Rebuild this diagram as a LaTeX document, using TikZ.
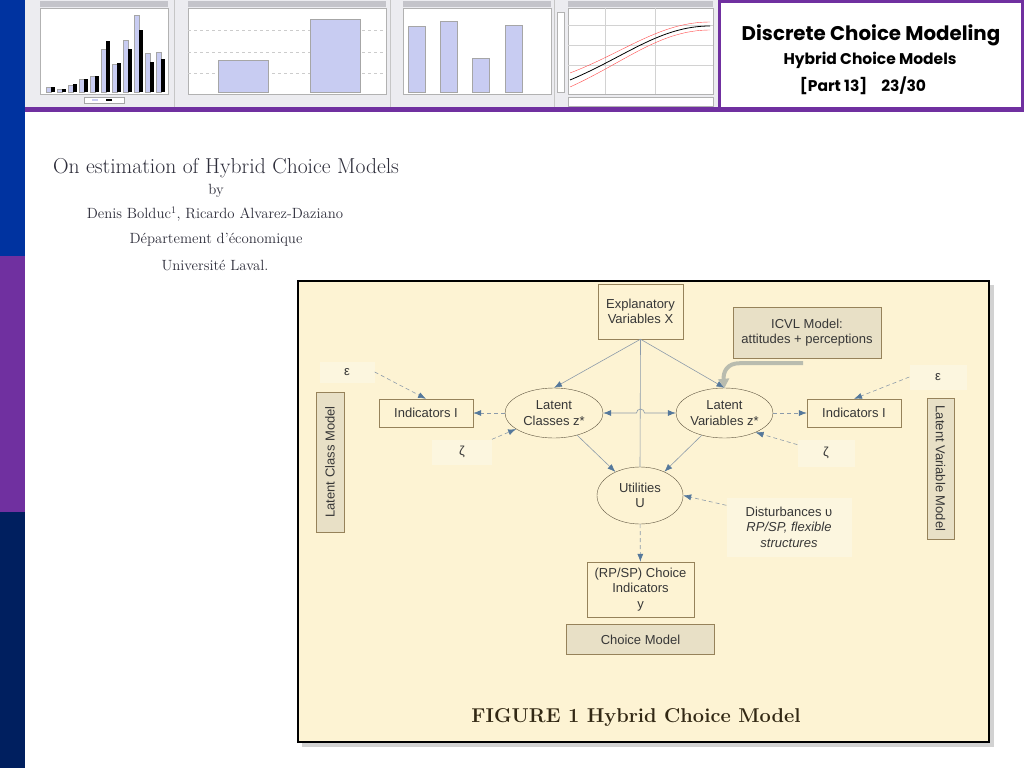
\documentclass[tikz,border=0pt]{standalone}
\usepackage{fontspec}
\usepackage{amsmath}
\usepackage{tikz}
\usetikzlibrary{positioning,fit,calc,arrows.meta,shapes.geometric}
\newfontfamily\figfont{Liberation Sans}
\newfontfamily\headfont{Poppins}

\definecolor{barblue}{RGB}{0,51,160}
\definecolor{barpurple}{RGB}{112,48,160}
\definecolor{barnavy}{RGB}{0,31,95}
\definecolor{cream}{RGB}{253,243,211}
\definecolor{faintbg}{RGB}{252,246,223}
\definecolor{tanbox}{RGB}{232,224,198}
\definecolor{boxline}{RGB}{150,130,90}
\definecolor{ellline}{RGB}{95,85,65}
\definecolor{linegray}{RGB}{140,155,170}
\definecolor{tipblue}{RGB}{85,120,155}
\definecolor{icvlgray}{RGB}{185,188,175}
\definecolor{figtxt}{RGB}{55,55,55}
\definecolor{pagetxt}{RGB}{45,45,58}
\definecolor{barlight}{RGB}{200,204,242}
\definecolor{paneltop}{RGB}{196,196,202}
\definecolor{panelbg}{RGB}{236,236,240}

\begin{document}
\begin{tikzpicture}[x=1pt,y=-1pt,>=latex,
  figtext/.style={font=\figfont\fontsize{13}{15.5}\selectfont, text=figtxt, align=center, inner sep=1pt},
  box/.style={figtext, draw=boxline, fill=cream, minimum width=94pt, minimum height=28pt},
  tanbox/.style={figtext, draw=boxline, fill=tanbox},
  latent/.style={figtext, ellipse, draw=ellline, fill=cream, inner sep=0pt},
  faint/.style={figtext, fill=faintbg, inner sep=0pt},
  solidarrow/.style={draw=linegray, line width=0.6pt, -{Latex[length=8pt,width=6pt,color=tipblue]}},
  dasharrow/.style={solidarrow, dash pattern=on 4pt off 3pt},
  pagetext/.style={text=pagetxt, inner sep=0pt}]

  \useasboundingbox (0,0) rectangle (1024,768);
  \fill[white] (0,0) rectangle (1024,768);

  % side bar
  \fill[barblue] (0,0) rectangle (25,256);
  \fill[barpurple] (0,256) rectangle (25,512);
  \fill[barnavy] (0,512) rectangle (25,768);

  % chart strip
  \fill[panelbg] (25,0) rectangle (718,108);
  \foreach \a/\b in {40/168,188/386,403/551,568/713}{
    \fill[white, draw=gray!60] (\a,8) rectangle (\b,94);
    \fill[paneltop] (\a,1) rectangle (\b,7);
  }
  \foreach \a in {174,390,554}
    \draw[gray!45] (\a,0) -- (\a,108);
  \foreach \l/\k [count=\i from 0] in {15/17,10/8,22/25,40/40,48/50,135/160,88/90,162/135,240/195,120/95,123/102}{
    \fill[barlight, draw=gray!70] ({46+11*\i},92) rectangle ++(5,{-\l*0.32});
    \fill[black] ({51+11*\i},92) rectangle ++(4,{-\k*0.32});
  }
  \draw[gray!70, fill=white] (84,97) rectangle (124,103);
  \fill[barlight] (92,99) rectangle (98,101);
  \fill[black] (106,99) rectangle (112,101);
  \foreach \y in {30,52,73}
    \draw[gray!40, dashed] (188,\y) -- (386,\y);
  \fill[barlight, draw=gray!70] (218,92) rectangle (268,60);
  \fill[barlight, draw=gray!70] (310,92) rectangle (360,19);
  \foreach \x/\t in {408/26,440/21,472/58,505/25}
    \fill[barlight, draw=gray!70] (\x,92) rectangle ++(17,{\t-92});
  \fill[white, draw=gray!60] (557,12) rectangle (564,92);
  \foreach \x in {605,655}
    \draw[gray!35] (\x,8) -- (\x,94);
  \foreach \y in {25,45,65}
    \draw[gray!35] (568,\y) -- (713,\y);
  \draw[red!70, line width=0.4pt] (570,73) .. controls (625,52) and (660,22) .. (710,22);
  \draw[red!70, line width=0.4pt] (570,87) .. controls (625,62) and (660,30) .. (710,30);
  \draw[black, line width=0.8pt] (570,80) .. controls (625,57) and (660,26) .. (710,26);
  \draw[gray!60, fill=white] (568,97) rectangle (713,106);

  % header
  \fill[barpurple] (25,107) rectangle (1024,112);
  \draw[barpurple, line width=3pt] (719.5,1.5) rectangle (1022.5,108);
  \node[font=\headfont\bfseries\fontsize{19.8}{22}\selectfont] (ttl) at (871,35) {Discrete Choice Modeling};
  \node[font=\headfont\bfseries\fontsize{15.5}{17}\selectfont] (sub) at (870,60) {Hybrid Choice Models};
  \node[font=\headfont\bfseries\fontsize{15.5}{17}\selectfont] (part) at (863,86) {[Part 13]\hspace{14pt}23/30};

  % paper title
  \node[pagetext, font=\fontsize{21.6}{24}\selectfont] (paper) at (226,168) {On estimation of Hybrid Choice Models};
  \node[pagetext, font=\fontsize{14.8}{17}\selectfont] (by) at (216,191) {by};
  \node[pagetext, font=\fontsize{14.8}{17}\selectfont] (authors) at (215,214) {Denis Bolduc$^1$, Ricardo Alvarez-Daziano};
  \node[pagetext, font=\fontsize{14.8}{17}\selectfont] (dept) at (216,240) {Département d’économique};
  \node[pagetext, font=\fontsize{14.8}{17}\selectfont] (univ) at (215,265) {Université Laval.};

  % figure frame
  \fill[gray!35] (302,285) rectangle (994,747);
  \draw[line width=2.5pt, fill=cream] (298,281) rectangle (989,742);

  \node[faint, minimum width=55pt, minimum height=21pt] (epsl) at (347,372) {ε};
  \node[faint, minimum width=60pt, minimum height=25pt] (zetal) at (462,452) {ζ};
  \node[faint, minimum width=57pt, minimum height=25pt] (epsr) at (938,377) {ε};
  \node[faint, minimum width=57pt, minimum height=27pt] (zetar) at (826,453) {ζ};
  \node[faint, minimum width=125pt, minimum height=59pt] (dist) at (789,527)
      {Disturbances υ\\\textit{RP/SP, flexible}\\\textit{structures}};

  \node[box, minimum width=85pt, minimum height=55pt] (expl) at (640.5,311.5) {Explanatory\\Variables X};
  \node[tanbox, minimum width=148pt, minimum height=51pt] (icvl) at (807,332.5) {ICVL Model:\\attitudes + perceptions};
  \node[box] (indl) at (426,413) {Indicators I};
  \node[latent, minimum width=98pt, minimum height=50pt] (lc) at (554,413) {Latent\\Classes z*};
  \node[latent, minimum width=97pt, minimum height=50pt] (lv) at (724.5,413) {Latent\\Variables z*};
  \node[box] (indr) at (854,413) {Indicators I};
  \node[latent, minimum width=86pt, minimum height=57pt] (util) at (640,495.5) {Utilities\\U};
  \node[box, minimum width=107pt, minimum height=55pt] (chi) at (640.5,589.5) {(RP/SP) Choice\\Indicators\\y};
  \node[tanbox, minimum width=148pt, minimum height=30pt, below=7pt of chi] (cm) {Choice Model};
  \node[tanbox, rotate=90, minimum width=140pt, minimum height=28pt] (lcm) at (330,462) {Latent Class Model};
  \node[tanbox, rotate=-90, minimum width=141pt, minimum height=27pt] (lvm) at (940.5,468.5) {Latent Variable Model};

  \coordinate (icvlfoot) at ($(icvl.south)+(-4,5)$);
  \draw[icvlgray, line width=4pt, -{Triangle[length=9pt,width=11pt]}]
      (icvlfoot) -- ++(-63,0) .. controls (727,363) and (723,372) .. (lv.north);

  \draw[solidarrow] (expl.south) -- (lc.north);
  \draw[solidarrow] (expl.south) -- (lv.north);
  \draw[draw=linegray, line width=0.6pt] (expl.south) -- (util.north);
  \draw[solidarrow, {Latex[length=8pt,width=6pt,color=tipblue]}-{Latex[length=8pt,width=6pt,color=tipblue]}]
      (lc.east) -- ($(expl.south|-lc.east)+(-4,0)$) arc[start angle=180, end angle=0, radius=4pt] -- (lv.west);
  \draw[solidarrow] (lc) -- (util);
  \draw[solidarrow] (lv) -- (util);

  \draw[dasharrow] (lc) -- (indl);
  \draw[dasharrow] (epsl.east) -- (indl.north);
  \draw[dasharrow] (zetal) -- (lc);
  \draw[dasharrow] (lv) -- (indr);
  \draw[dasharrow] (epsr.west) -- (indr.north);
  \draw[dasharrow] (zetar) -- (lv.-32);
  \draw[dasharrow] ($(dist.north west)+(0,8)$) -- (util.east);
  \draw[dasharrow] (util) -- (chi);

  \node[font=\bfseries\fontsize{20}{23}\selectfont, text={rgb,255:red,50;green,40;blue,20}] (cap) at (636,718) {FIGURE 1 Hybrid Choice Model};
\end{tikzpicture}
\end{document}
